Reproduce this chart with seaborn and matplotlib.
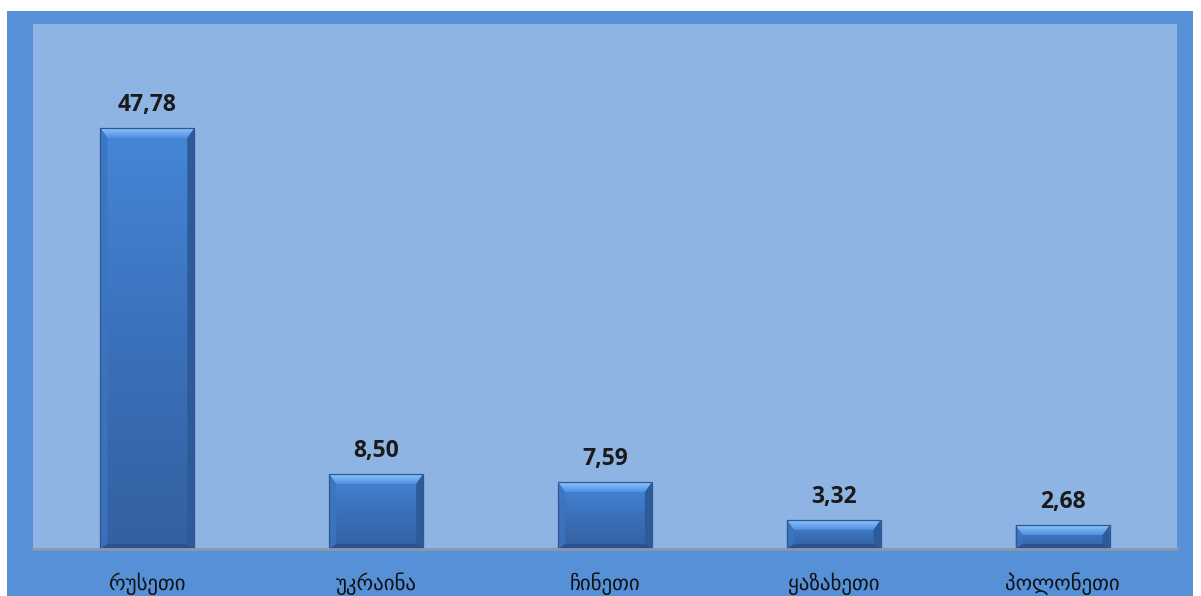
import numpy as np
import matplotlib
matplotlib.use("Agg")
import matplotlib.pyplot as plt
from matplotlib.patches import Rectangle, Polygon
from matplotlib.colors import LinearSegmentedColormap
import seaborn as sns

countries = ["რუსეთი", "უკრაინა", "ჩინეთი", "ყაზახეთი", "პოლონეთი"]
values = [47.78, 8.50, 7.59, 3.32, 2.68]
value_labels = ["47,78", "8,50", "7,59", "3,32", "2,68"]

sns.set_theme(style="white")
plt.rcParams['font.family'] = ['DejaVu Sans']

W, H = 1201, 596
fig = plt.figure(figsize=(W / 100, H / 100), dpi=100)
fig.patch.set_facecolor("white")

# outer blue frame
frame = Rectangle((7 / W, 0), (1193 - 7) / W, (H - 11) / H,
                  transform=fig.transFigure, facecolor="#5690d6",
                  edgecolor="none", zorder=-10)
fig.add_artist(frame)

left, right, top, bottom = 33, 1177, 24, 549
ax = fig.add_axes([left / W, 1 - bottom / H, (right - left) / W, (bottom - top) / H])
ax.set_zorder(1)
ax.set_facecolor("#8eb4e3")

sns.barplot(x=countries, y=values, color="#4280d0", width=0.41, ax=ax,
            saturation=1, edgecolor="none", zorder=2)
ax.set_xlim(-0.5, 4.5)
ymax = 59.6
ax.set_ylim(0, ymax)

px_x = 5 / (right - left)
px_y = ymax / (bottom - top)

body = LinearSegmentedColormap.from_list("body", ["#3460a0", "#3b71bb", "#4587d8"])
topcm = LinearSegmentedColormap.from_list("topb", ["#4f90e0", "#6eaaf0", "#8cc4f8"])
for p, lab in zip(list(ax.patches), value_labels):
    x0, w, h = p.get_x(), p.get_width(), p.get_height()
    x1 = x0 + w
    grad = np.linspace(0, 1, 256).reshape(-1, 1)
    im = ax.imshow(grad, extent=(x0, x1, 0, h), origin="lower", cmap=body,
                   aspect="auto", zorder=3)
    im.set_clip_path(p)
    bt = 10 * px_y   # top bevel
    bs = 7 * px_x    # side bevel
    bb = 5 * px_y    # bottom bevel
    # top bevel with gradient
    tp = Polygon([(x0, h), (x1, h), (x1 - bs, h - bt), (x0 + bs, h - bt)],
                 closed=True, facecolor="none", edgecolor="none", zorder=4)
    ax.add_patch(tp)
    timg = ax.imshow(grad, extent=(x0, x1, h - bt, h), origin="lower", cmap=topcm,
                     aspect="auto", zorder=4)
    timg.set_clip_path(tp)
    # left bevel
    ax.add_patch(Polygon([(x0, h), (x0 + bs, h - bt), (x0 + bs, bb), (x0, 0)],
                         closed=True, facecolor="#3c74bf", edgecolor="none", zorder=4, alpha=0.85))
    # right bevel
    ax.add_patch(Polygon([(x1, h), (x1 - bs, h - bt), (x1 - bs, bb), (x1, 0)],
                         closed=True, facecolor="#2d5a98", edgecolor="none", zorder=4))
    # bottom bevel
    ax.add_patch(Polygon([(x0, 0), (x1, 0), (x1 - bs, bb), (x0 + bs, bb)],
                         closed=True, facecolor="#2a5290", edgecolor="none", zorder=4))
    ax.add_patch(Rectangle((x0, 0), w, h, facecolor="none", edgecolor="#2d5790",
                           linewidth=0.9, zorder=5))
    ax.text(x0 + w / 2, h + 23 * px_y, lab, ha="center", va="center",
            fontsize=16.5, fontweight="bold", color="#1a1a1a",
            family=["Open Sans", "DejaVu Sans"], zorder=6)

for s in ["top", "left", "right"]:
    ax.spines[s].set_visible(False)
ax.spines["bottom"].set_color("#8a98ad")
ax.spines["bottom"].set_linewidth(2)
ax.spines["bottom"].set_zorder(6)
ax.set_yticks([])
ax.tick_params(axis="x", length=0, pad=17, labelsize=15, labelcolor="#111111")
ax.set_xlabel("")
ax.set_ylabel("")

fig.savefig("out.png", dpi=100, facecolor=fig.get_facecolor())
